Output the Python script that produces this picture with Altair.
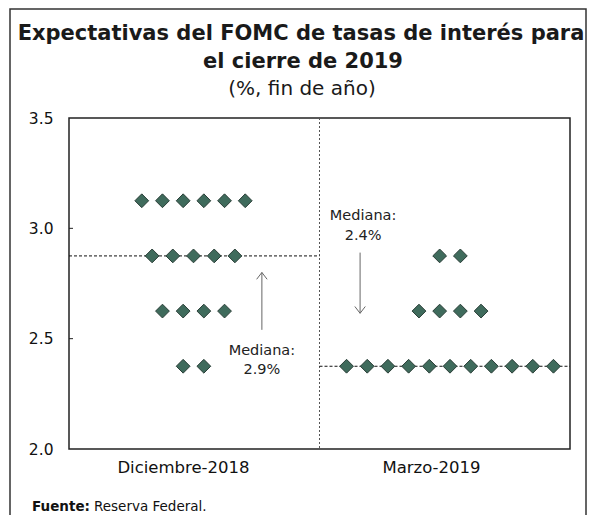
import altair as alt
import pandas as pd

# ---------------- data ----------------
periods = ["Diciembre-2018", "Marzo-2019"]
rates = [3.125, 2.875, 2.625, 2.375]
dec_counts = [6, 5, 4, 2]
mar_counts = [0, 2, 4, 11]
medians = [2.875, 2.375]
median_labels = ["2.9%", "2.4%"]
y_ticks = [2.0, 2.5, 3.0, 3.5]
title_lines = ["Expectativas del FOMC de tasas de interés para", "el cierre de 2019"]
subtitle = "(%, fin de año)"
source_label = "Fuente:"
source_text = "Reserva Federal."

# ---------------- layout constants ----------------
W, H = 501, 331
FONT = "DejaVu Sans"
group_centers = [0.497, 1.521]
dot_step = 0.0826
label_pos = [0.455, 1.445]

rows = []
for p, counts in enumerate([dec_counts, mar_counts]):
    for r, c in zip(rates, counts):
        for j in range(c):
            rows.append({"periodo": periods[p], "tasa": r,
                         "x": group_centers[p] + (j - (c - 1) / 2) * dot_step})
dots = pd.DataFrame(rows)

med_df = pd.DataFrame({"x0": [0.0, 1.0], "x1": [1.0, 2.0], "y": medians})
div_df = pd.DataFrame({"x": [1.0]})
arrow_up = pd.DataFrame({"x": [0.77], "y0": [2.54], "y1": [2.80]})
arrow_dn = pd.DataFrame({"x": [1.162], "y0": [2.89], "y1": [2.615]})
ann_df = pd.DataFrame({
    "x": [0.77, 0.77, 1.174, 1.174],
    "y": [2.445, 2.36, 3.055, 2.965],
    "t": ["Mediana:", median_labels[0], "Mediana:", median_labels[1]],
})
tick_df = pd.DataFrame({"y": y_ticks[1:3]})
one = pd.DataFrame({"a": [0]})

xs = alt.Scale(domain=[0, 2], nice=False, zero=False)
ys = alt.Scale(domain=[2.0, 3.5], nice=False, zero=False)

label_expr = f"datum.value < 1 ? '{periods[0]}' : '{periods[1]}'"

points = alt.Chart(dots).mark_point(
    shape="diamond", filled=True, size=190, color="#3f6b5c",
    stroke="#2b3f38", strokeWidth=1, opacity=1
).encode(
    x=alt.X("x:Q", scale=xs, title=None,
            axis=alt.Axis(values=label_pos, labelExpr=label_expr, ticks=False,
                          domain=False, grid=False, labelFontSize=16.5,
                          labelFont=FONT, labelColor="#111", labelPadding=10,
                          labelFlush=False)),
    y=alt.Y("tasa:Q", scale=ys, title=None,
            axis=alt.Axis(values=y_ticks, format=".1f", ticks=False, domain=False,
                          grid=False, labelFontSize=15.5, labelFont=FONT,
                          labelColor="#111", labelPadding=16)),
)

med = alt.Chart(med_df).mark_rule(color="#111", strokeWidth=1, strokeDash=[3, 2]).encode(
    x=alt.X("x0:Q", scale=xs), x2="x1:Q", y=alt.Y("y:Q", scale=ys)
)

divider = alt.Chart(div_df).mark_rule(color="#555", strokeWidth=1, strokeDash=[2, 2]).encode(
    x=alt.X("x:Q", scale=xs)
)

up_line = alt.Chart(arrow_up).mark_rule(color="#666", strokeWidth=1).encode(
    x=alt.X("x:Q", scale=xs), y=alt.Y("y0:Q", scale=ys), y2="y1:Q"
)
up_head = alt.Chart(arrow_up).mark_point(
    shape="M-1,1.3L0,0L1,1.3", filled=False, size=110, color="#666", strokeWidth=1, opacity=1
).encode(x=alt.X("x:Q", scale=xs), y=alt.Y("y1:Q", scale=ys))

dn_line = alt.Chart(arrow_dn).mark_rule(color="#666", strokeWidth=1).encode(
    x=alt.X("x:Q", scale=xs), y=alt.Y("y0:Q", scale=ys), y2="y1:Q"
)
dn_head = alt.Chart(arrow_dn).mark_point(
    shape="M-1,-1.3L0,0L1,-1.3", filled=False, size=110, color="#666", strokeWidth=1, opacity=1
).encode(x=alt.X("x:Q", scale=xs), y=alt.Y("y1:Q", scale=ys))

ann = alt.Chart(ann_df).mark_text(
    font=FONT, fontSize=14.5, color="#222", align="center", baseline="middle"
).encode(x=alt.X("x:Q", scale=xs), y=alt.Y("y:Q", scale=ys), text="t:N")

yticks = alt.Chart(tick_df).mark_rule(color="#222", strokeWidth=1).encode(
    y=alt.Y("y:Q", scale=ys), x=alt.value(0), x2=alt.value(4)
)

# title block (text marks positioned relative to the plot area)
t1 = alt.Chart(one).mark_text(
    font=FONT, fontSize=21, fontWeight="bold", color="#1a1a1a", align="center",
    baseline="alphabetic"
).encode(x=alt.value(232), y=alt.value(-78), text=alt.value(title_lines[0]))
t2 = alt.Chart(one).mark_text(
    font=FONT, fontSize=21, fontWeight="bold", color="#1a1a1a", align="center",
    baseline="alphabetic"
).encode(x=alt.value(234), y=alt.value(-50), text=alt.value(title_lines[1]))
t3 = alt.Chart(one).mark_text(
    font=FONT, fontSize=20, color="#1a1a1a", align="center", baseline="alphabetic"
).encode(x=alt.value(233), y=alt.value(-23), text=alt.value(subtitle))

src_bold = alt.Chart(one).mark_text(
    font=FONT, fontSize=13.5, fontWeight="bold", color="#111", align="left",
    baseline="alphabetic"
).encode(x=alt.value(-37), y=alt.value(393), text=alt.value(source_label))
src_reg = alt.Chart(one).mark_text(
    font=FONT, fontSize=13.5, color="#111", align="left", baseline="alphabetic"
).encode(x=alt.value(25), y=alt.value(393), text=alt.value(source_text))

frame = alt.Chart(one).mark_rect(
    fillOpacity=0, fill="white", stroke="#333", strokeWidth=1.5
).encode(x=alt.value(-59), x2=alt.value(517), y=alt.value(-109), y2=alt.value(440))

chart = alt.layer(
    frame, divider, med, points, up_line, up_head, dn_line, dn_head, ann, yticks,
    t1, t2, t3, src_bold, src_reg
).properties(
    width=W, height=H,
    autosize=alt.AutoSizeParams(type="none"),
    padding={"left": 61, "top": 110, "right": 17, "bottom": 66},
).configure_view(stroke="#222", strokeWidth=1.5)

chart.save("out.html", embed_options={"renderer": "svg", "actions": False})
